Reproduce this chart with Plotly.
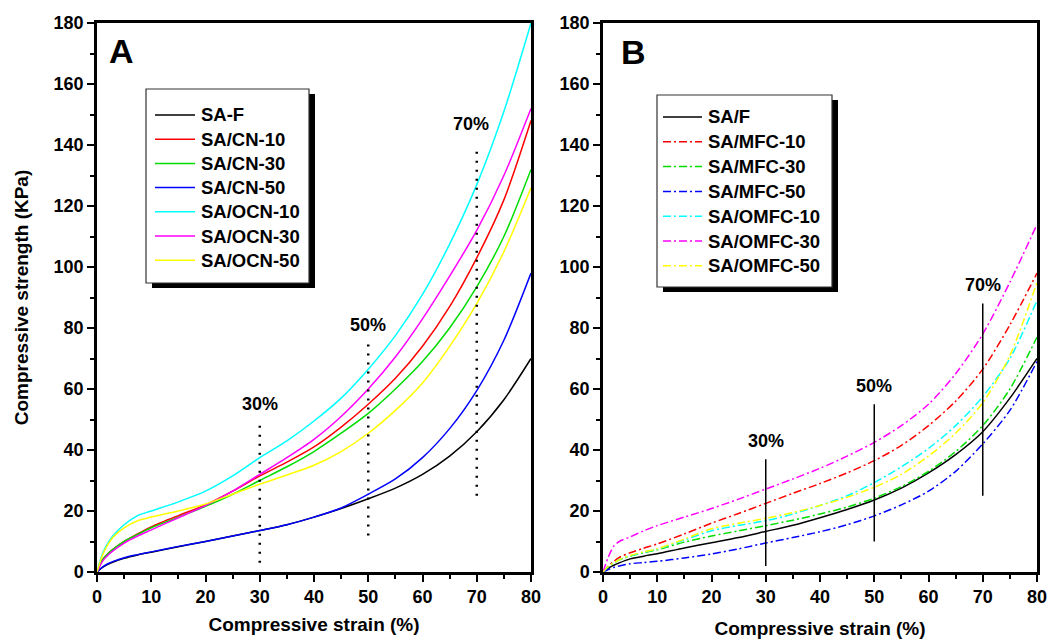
import plotly.graph_objects as go

# Compressive strain sampling points (%)
strain = [0, 1, 2, 3, 5, 7.5, 10, 15, 20, 25, 30, 35, 40, 45, 50, 55, 60, 65, 70, 75, 80]

# Panel A: stress (KPa) of SA foams with CN / OCN
sa_f = [0, 1.5, 2.5, 3.3, 4.5, 5.6, 6.5, 8.3, 10, 11.8, 13.6, 15.5, 18, 20.8, 24, 27.5, 32, 38, 46, 56.5, 70]
sa_cn_10 = [0, 4, 6, 7.5, 10, 12.5, 14.8, 18.5, 22, 26.5, 31.5, 36, 41, 47.5, 55, 63.5, 74, 87, 103, 122, 148]
sa_cn_30 = [0, 4, 6, 7.5, 10, 12.3, 14.5, 18, 21.5, 25.5, 30, 34.5, 39.5, 45.5, 52, 60, 69, 80, 93.5, 110, 132]
sa_cn_50 = [0, 1.6, 2.7, 3.5, 4.7, 5.7, 6.6, 8.4, 10, 11.8, 13.6, 15.5, 18, 21, 25.5, 30.5, 37.5, 47, 59.5, 76, 98]
sa_ocn_10 = [0, 6, 9.5, 12, 15.5, 18.5, 20, 23, 26.5, 31.5, 37.5, 43, 49.5, 57, 66.5, 77.5, 91, 107.5, 127, 151, 180]
sa_ocn_30 = [0, 3.5, 5.5, 7, 9.5, 11.8, 13.8, 17.8, 21.8, 26.5, 32, 37.5, 43.5, 51, 60, 70.5, 83, 97, 112, 130, 152]
sa_ocn_50 = [0, 5.5, 9, 11.5, 14.5, 16.8, 18, 20, 22.3, 25.5, 28.8, 31.8, 35, 39.5, 45.5, 53, 62, 74, 88, 105, 126]

# Panel B: stress (KPa) of SA foams with MFC / OMFC
sa_f_b = [0, 1.3, 2.2, 3, 4.3, 5.2, 6, 7.9, 9.6, 11.3, 13.3, 15.3, 17.8, 20.5, 23.6, 27.5, 32.5, 38.5, 46, 57, 70]
sa_mfc_10 = [0, 2, 3.5, 4.8, 6.3, 7.8, 9.2, 12.5, 16, 19.2, 22.5, 25.8, 29, 32.5, 36.5, 41.5, 48, 56, 66.5, 81, 98]
sa_mfc_30 = [0, 1.8, 3, 4, 5.2, 6.3, 7.3, 9.8, 11.8, 13.5, 15.2, 17, 19, 21.3, 24.2, 28, 33, 39.5, 48, 60, 77]
sa_mfc_50 = [0, 0.8, 1.5, 2, 2.7, 3.1, 3.5, 4.6, 5.9, 7.6, 9.5, 11.3, 13.2, 15.5, 18.4, 22, 26.5, 33, 42, 53, 69]
sa_omfc_10 = [0, 1.8, 3, 4, 5.3, 6.5, 7.5, 10.5, 13.5, 15.3, 16.8, 19, 21.8, 25, 29.3, 34.5, 40.5, 48, 57.5, 70, 89]
sa_omfc_30 = [0, 5, 8.5, 10, 11.5, 13.5, 15.2, 18, 20.8, 23.9, 27.2, 30.5, 34, 38, 42.5, 48, 55, 65, 78, 95, 114]
sa_omfc_50 = [0, 1.8, 3, 4, 5.4, 6.6, 7.6, 10.8, 14.2, 16, 17.6, 19.5, 21.8, 24.5, 27.8, 32, 38, 45.5, 55.5, 71, 95]

names_a = ["SA-F", "SA/CN-10", "SA/CN-30", "SA/CN-50", "SA/OCN-10", "SA/OCN-30", "SA/OCN-50"]
names_b = ["SA/F", "SA/MFC-10", "SA/MFC-30", "SA/MFC-50", "SA/OMFC-10", "SA/OMFC-30", "SA/OMFC-50"]
colors = ["#000000", "#ff0000", "#00dd00", "#0000ff", "#00ffff", "#ff00ff", "#ffff00"]

series_a = [sa_f, sa_cn_10, sa_cn_30, sa_cn_50, sa_ocn_10, sa_ocn_30, sa_ocn_50]
series_b = [sa_f_b, sa_mfc_10, sa_mfc_30, sa_mfc_50, sa_omfc_10, sa_omfc_30, sa_omfc_50]

# Marker lines and their labels: (strain, y_bottom, y_top, label_x, label_y)
marks_a = [(30, 3, 50, 30, 55), (50, 12, 75, 50, 81), (70, 25, 140, 69, 147)]
marks_b = [(30, 2, 37, 30, 43), (50, 10, 55, 50, 61), (70, 25, 88, 70, 94)]

FONT = "Liberation Sans, Arial, sans-serif"
W, H = 1049, 639
DASHDOT = "8px,3px,2px,3px"

fig = go.Figure()

for name, ys, c in zip(names_a, series_a, colors):
    fig.add_trace(go.Scatter(
        x=strain, y=ys, name=name, mode="lines", showlegend=False,
        line=dict(color=c, width=1.5, shape="spline", smoothing=0.8),
        xaxis="x", yaxis="y"))

styles_b = ["solid"] + [DASHDOT] * 6
for name, ys, c, d in zip(names_b, series_b, colors, styles_b):
    fig.add_trace(go.Scatter(
        x=strain, y=ys, name=name, mode="lines", showlegend=False,
        line=dict(color=c, width=1.5, shape="spline", smoothing=0.8, dash=d),
        xaxis="x2", yaxis="y2"))

# Marker lines
for xv, y0, y1, lx, ly in marks_a:
    fig.add_shape(type="line", xref="x", yref="y", x0=xv, x1=xv, y0=y0, y1=y1,
                  line=dict(color="black", width=2.5, dash="2px,7px"))
    fig.add_annotation(x=lx, y=ly, xref="x", yref="y", text=f"<b>{xv}%</b>",
                       showarrow=False, font=dict(family=FONT, size=18, color="black"))
for xv, y0, y1, lx, ly in marks_b:
    fig.add_shape(type="line", xref="x2", yref="y2", x0=xv, x1=xv, y0=y0, y1=y1,
                  line=dict(color="black", width=1.5))
    fig.add_annotation(x=lx, y=ly, xref="x2", yref="y2", text=f"<b>{xv}%</b>",
                       showarrow=False, font=dict(family=FONT, size=18, color="black"))

# Panel letters
for letter, px, py in [("A", 121, 51), ("B", 633, 52)]:
    fig.add_annotation(x=px / W, y=1 - py / H, xref="paper", yref="paper",
                       xanchor="center", yanchor="middle", text=f"<b>{letter}</b>",
                       showarrow=False, font=dict(family=FONT, size=34, color="black"))


def px_x(v):
    return v / W


def px_y(v):
    return 1 - v / H


# Boxed key with a drop shadow (pixel layout on the page)
def key(left, top, right, bottom, row0, step, line_x0, line_x1, text_x, names, dashes):
    fig.add_shape(type="rect", xref="paper", yref="paper",
                  x0=px_x(left + 6), x1=px_x(right + 6), y0=px_y(bottom + 5), y1=px_y(top + 5),
                  fillcolor="black", line=dict(width=0))
    fig.add_shape(type="rect", xref="paper", yref="paper",
                  x0=px_x(left), x1=px_x(right), y0=px_y(bottom), y1=px_y(top),
                  fillcolor="white", line=dict(color="#333333", width=1.2))
    for i, (name, c, d) in enumerate(zip(names, colors, dashes)):
        yy = row0 + i * step
        fig.add_shape(type="line", xref="paper", yref="paper",
                      x0=px_x(line_x0), x1=px_x(line_x1), y0=px_y(yy), y1=px_y(yy),
                      line=dict(color=c, width=1.5, dash=d))
        fig.add_annotation(x=px_x(text_x), y=px_y(yy), xref="paper", yref="paper",
                           xanchor="left", yanchor="middle", text=f"<b>{name}</b>",
                           showarrow=False,
                           font=dict(family=FONT, size=18.5, color="black"))


key(146, 89, 309, 283, 115, 24.2, 155, 195, 199, names_a, ["solid"] * 7)
key(657, 95, 832, 287, 117, 24.8, 663, 702, 706, names_b, styles_b)

axis_common = dict(
    showline=True, linecolor="black", linewidth=2.5, mirror=True,
    ticks="outside", ticklen=7, tickwidth=2, tickcolor="black",
    showgrid=False, zeroline=False, automargin=False,
    tickfont=dict(family=FONT, size=18, color="black"),
    tickprefix="<b>", ticksuffix="</b>",
)
minor_x = dict(dtick=5, ticks="outside", ticklen=4, tickwidth=2, tickcolor="black")
minor_y = dict(dtick=10, ticks="outside", ticklen=4, tickwidth=2, tickcolor="black")
title_font = dict(family=FONT, size=19, color="black")

xdom_a = [97 / W, 531 / W]
xdom_b = [603 / W, 1037 / W]
ydom = [1 - 572 / H, 1 - 23 / H]

fig.update_layout(
    width=W, height=H,
    margin=dict(l=0, r=0, t=0, b=0, autoexpand=False),
    paper_bgcolor="white", plot_bgcolor="white",
    font=dict(family=FONT, color="black"),
    showlegend=False,
    xaxis=dict(domain=xdom_a, range=[0, 80], dtick=10, anchor="y", minor=minor_x,
               title=dict(text="<b>Compressive strain (%)</b>", standoff=12, font=title_font),
               **axis_common),
    yaxis=dict(domain=ydom, range=[0, 180], dtick=20, anchor="x", minor=minor_y,
               title=dict(text="<b>Compressive strength (KPa)</b>", standoff=20, font=title_font),
               **axis_common),
    xaxis2=dict(domain=xdom_b, range=[0, 80], dtick=10, anchor="y2", minor=minor_x,
                title=dict(text="<b>Compressive strain (%)</b>", standoff=16, font=title_font),
                **axis_common),
    yaxis2=dict(domain=ydom, range=[0, 180], dtick=20, anchor="x2", minor=minor_y,
                **axis_common),
)

fig.write_html("out.html")
